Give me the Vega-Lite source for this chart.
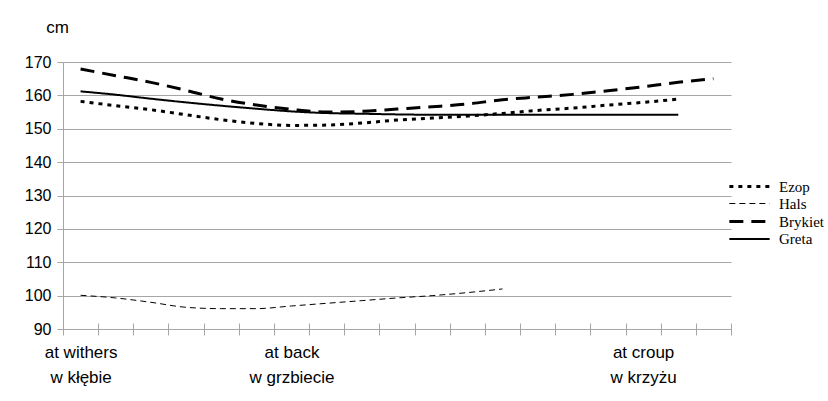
{
  "$schema": "https://vega.github.io/schema/vega-lite/v6.json",
  "width": 668,
  "height": 267,
  "autosize": {"type": "none"},
  "padding": {"left": 63, "top": 62, "right": 97, "bottom": 72},
  "background": "white",
  "config": {
    "view": {"stroke": null},
    "font": "Liberation Sans",
    "legend": {"padding": 0}
  },
  "data": {
    "values": [
      {"pos": 0, "horse": "Ezop", "cm": 158.2},
      {"pos": 1, "horse": "Ezop", "cm": 156.9},
      {"pos": 2, "horse": "Ezop", "cm": 155.7},
      {"pos": 3, "horse": "Ezop", "cm": 154.2},
      {"pos": 4, "horse": "Ezop", "cm": 152.7},
      {"pos": 5, "horse": "Ezop", "cm": 151.6},
      {"pos": 6, "horse": "Ezop", "cm": 151.0},
      {"pos": 7, "horse": "Ezop", "cm": 151.1},
      {"pos": 8, "horse": "Ezop", "cm": 151.7},
      {"pos": 9, "horse": "Ezop", "cm": 152.6},
      {"pos": 10, "horse": "Ezop", "cm": 153.2},
      {"pos": 11, "horse": "Ezop", "cm": 153.8},
      {"pos": 12, "horse": "Ezop", "cm": 154.6},
      {"pos": 13, "horse": "Ezop", "cm": 155.5},
      {"pos": 14, "horse": "Ezop", "cm": 156.2},
      {"pos": 15, "horse": "Ezop", "cm": 157.1},
      {"pos": 16, "horse": "Ezop", "cm": 157.9},
      {"pos": 17, "horse": "Ezop", "cm": 158.9},
      {"pos": 0, "horse": "Hals", "cm": 100.1},
      {"pos": 1, "horse": "Hals", "cm": 99.3},
      {"pos": 2, "horse": "Hals", "cm": 98.0},
      {"pos": 3, "horse": "Hals", "cm": 96.5},
      {"pos": 4, "horse": "Hals", "cm": 96.1},
      {"pos": 5, "horse": "Hals", "cm": 96.1},
      {"pos": 6, "horse": "Hals", "cm": 96.9},
      {"pos": 7, "horse": "Hals", "cm": 97.7},
      {"pos": 8, "horse": "Hals", "cm": 98.5},
      {"pos": 9, "horse": "Hals", "cm": 99.3},
      {"pos": 10, "horse": "Hals", "cm": 100.0},
      {"pos": 11, "horse": "Hals", "cm": 100.9},
      {"pos": 12, "horse": "Hals", "cm": 102.0},
      {"pos": 0, "horse": "Brykiet", "cm": 167.9},
      {"pos": 1, "horse": "Brykiet", "cm": 165.9},
      {"pos": 2, "horse": "Brykiet", "cm": 163.9},
      {"pos": 3, "horse": "Brykiet", "cm": 161.5},
      {"pos": 4, "horse": "Brykiet", "cm": 158.9},
      {"pos": 5, "horse": "Brykiet", "cm": 157.1},
      {"pos": 6, "horse": "Brykiet", "cm": 155.8},
      {"pos": 7, "horse": "Brykiet", "cm": 155.0},
      {"pos": 8, "horse": "Brykiet", "cm": 155.2},
      {"pos": 9, "horse": "Brykiet", "cm": 155.9},
      {"pos": 10, "horse": "Brykiet", "cm": 156.6},
      {"pos": 11, "horse": "Brykiet", "cm": 157.4},
      {"pos": 12, "horse": "Brykiet", "cm": 158.7},
      {"pos": 13, "horse": "Brykiet", "cm": 159.5},
      {"pos": 14, "horse": "Brykiet", "cm": 160.3},
      {"pos": 15, "horse": "Brykiet", "cm": 161.4},
      {"pos": 16, "horse": "Brykiet", "cm": 162.6},
      {"pos": 17, "horse": "Brykiet", "cm": 163.9},
      {"pos": 18, "horse": "Brykiet", "cm": 165.0},
      {"pos": 0, "horse": "Greta", "cm": 161.2},
      {"pos": 1, "horse": "Greta", "cm": 160.2},
      {"pos": 2, "horse": "Greta", "cm": 159.0},
      {"pos": 3, "horse": "Greta", "cm": 157.9},
      {"pos": 4, "horse": "Greta", "cm": 156.9},
      {"pos": 5, "horse": "Greta", "cm": 156.0},
      {"pos": 6, "horse": "Greta", "cm": 155.2},
      {"pos": 7, "horse": "Greta", "cm": 154.7},
      {"pos": 8, "horse": "Greta", "cm": 154.5},
      {"pos": 9, "horse": "Greta", "cm": 154.3},
      {"pos": 10, "horse": "Greta", "cm": 154.2},
      {"pos": 11, "horse": "Greta", "cm": 154.2},
      {"pos": 12, "horse": "Greta", "cm": 154.2},
      {"pos": 13, "horse": "Greta", "cm": 154.2},
      {"pos": 14, "horse": "Greta", "cm": 154.2},
      {"pos": 15, "horse": "Greta", "cm": 154.2},
      {"pos": 16, "horse": "Greta", "cm": 154.2},
      {"pos": 17, "horse": "Greta", "cm": 154.2}
    ]
  },
  "mark": {"type": "line", "color": "black", "interpolate": "monotone", "strokeCap": "butt"},
  "encoding": {
    "x": {
      "field": "pos",
      "type": "ordinal",
      "scale": {"type": "band", "paddingInner": 0, "paddingOuter": 0},
      "axis": {
        "title": null,
        "tickBand": "extent",
        "domain": false,
        "offset": -6,
        "tickSize": 12,
        "tickColor": "#a6a6a6",
        "tickWidth": 1,
        "labelAngle": 0,
        "labelPadding": 9,
        "labelFont": "Liberation Sans",
        "labelFontSize": 17,
        "labelColor": "#000",
        "labelLineHeight": 25,
        "labelBaseline": "top",
        "labelOverlap": false,
        "labelExpr": "datum.value == 0 ? ['at withers', 'w kłębie'] : datum.value == 6 ? ['at back', 'w grzbiecie'] : datum.value == 16 ? ['at croup', 'w krzyżu'] : ''"
      }
    },
    "y": {
      "field": "cm",
      "type": "quantitative",
      "scale": {"domain": [90, 170], "zero": false, "nice": false},
      "axis": {
        "values": [90, 100, 110, 120, 130, 140, 150, 160, 170],
        "title": "cm",
        "titleAngle": 0,
        "titleAlign": "center",
        "titleBaseline": "alphabetic",
        "titleX": -6,
        "titleY": -30,
        "titleFont": "Liberation Sans",
        "titleFontSize": 17,
        "titleFontWeight": "normal",
        "titleColor": "#000",
        "domainColor": "#a6a6a6",
        "tickColor": "#a6a6a6",
        "tickSize": 6,
        "gridColor": "#a6a6a6",
        "gridOpacity": 1,
        "labelFont": "Liberation Sans",
        "labelFontSize": 16,
        "labelColor": "#000",
        "labelPadding": 6
      }
    },
    "strokeDash": {
      "field": "horse",
      "type": "nominal",
      "scale": {
        "domain": ["Ezop", "Hals", "Brykiet", "Greta"],
        "range": [[4, 5], [6, 4], [14, 8], [1, 0]]
      },
      "legend": {
        "title": null,
        "orient": "none",
        "legendX": 677,
        "legendY": 115,
        "symbolType": "M-2.6,0H2.6",
        "symbolSize": 240,
        "symbolStrokeColor": "black",
        "labelFont": "Liberation Serif",
        "labelFontSize": 15,
        "labelColor": "#000",
        "labelOffset": 20,
        "rowPadding": -2
      }
    },
    "strokeWidth": {
      "field": "horse",
      "type": "nominal",
      "scale": {
        "type": "ordinal",
        "domain": ["Ezop", "Hals", "Brykiet", "Greta"],
        "range": [3, 1, 3, 2]
      },
      "legend": null
    }
  }
}
